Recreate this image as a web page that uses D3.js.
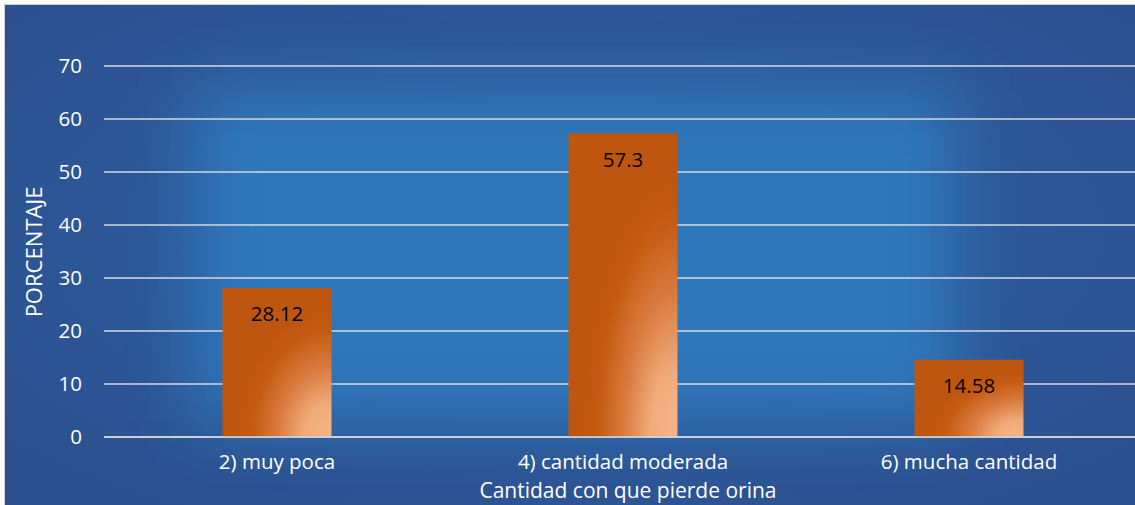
<!DOCTYPE html>
<html><head><meta charset="utf-8">
<script src="https://cdn.jsdelivr.net/npm/d3@7"></script>
<style>html,body{margin:0;padding:0;background:#fff;}svg{display:block;}</style>
</head><body>
<script>
const categories = ["2) muy poca", "4) cantidad moderada", "6) mucha cantidad"];
const values = [28.12, 57.3, 14.58];
const valueLabels = ["28.12", "57.3", "14.58"];
const yTicks = [0, 10, 20, 30, 40, 50, 60, 70];
const xTitle = "Cantidad con que pierde orina";
const yTitle = "PORCENTAJE";

const W = 1135, H = 505;
const font = "'Open Sans', sans-serif";
const svg = d3.select("body").append("svg").attr("width", W).attr("height", H);
const defs = svg.append("defs");

const blur = defs.append("filter").attr("id", "blur").attr("x", "-50%").attr("y", "-50%").attr("width", "200%").attr("height", "200%");
blur.append("feGaussianBlur").attr("stdDeviation", 32);

const bg = defs.append("radialGradient").attr("id", "bgGrad").attr("cx", "0.5").attr("cy", "0.45").attr("r", "0.7");
bg.append("stop").attr("offset", "0").attr("stop-color", "#2e62a4");
bg.append("stop").attr("offset", "1").attr("stop-color", "#2c4f8e");

const barGrad = defs.append("radialGradient").attr("id", "barGrad")
  .attr("cx", "1").attr("cy", "1").attr("r", "0.85").attr("fx", "0.95").attr("fy", "1");
barGrad.append("stop").attr("offset", "0").attr("stop-color", "#f5b486");
barGrad.append("stop").attr("offset", "0.25").attr("stop-color", "#f1ab7b");
barGrad.append("stop").attr("offset", "0.55").attr("stop-color", "#d97b3f");
barGrad.append("stop").attr("offset", "0.85").attr("stop-color", "#c55a11");
barGrad.append("stop").attr("offset", "1").attr("stop-color", "#bf5610");

// frame
svg.append("rect").attr("x", 0).attr("y", 0).attr("width", W).attr("height", H).attr("fill", "#ffffff");
svg.append("rect").attr("x", 4).attr("y", 4).attr("width", W).attr("height", H).attr("fill", "#d0d0d0");
svg.append("rect").attr("x", 5).attr("y", 5).attr("width", W).attr("height", H).attr("fill", "url(#bgGrad)");
svg.append("rect").attr("x", 195).attr("y", 90).attr("width", 760).attr("height", 330)
  .attr("fill", "#2f77ba").attr("filter", "url(#blur)");

const x = d3.scaleBand().domain(categories).range([104, 1142]).paddingInner(0.685).paddingOuter(0.3425);
const y = d3.scaleLinear().domain([0, 70]).range([437, 66]);

// gridlines
svg.append("g").selectAll("line").data(yTicks).join("line")
  .attr("x1", 104).attr("x2", W).attr("y1", d => y(d)).attr("y2", d => y(d))
  .attr("stroke", "#d4d8de").attr("stroke-width", 1.6);

// y tick labels
svg.append("g").selectAll("text").data(yTicks).join("text")
  .attr("x", 82).attr("y", d => y(d)).attr("dy", "0.36em")
  .attr("text-anchor", "end").attr("fill", "#ffffff")
  .attr("font-family", font).attr("font-size", 20.5).text(d => d);

// bars
svg.append("g").selectAll("rect").data(values).join("rect")
  .attr("x", (d, i) => x(categories[i])).attr("width", x.bandwidth())
  .attr("y", d => y(d)).attr("height", d => y(0) - y(d))
  .attr("fill", "url(#barGrad)");

// axis line on top
svg.append("line").attr("x1", 104).attr("x2", W).attr("y1", y(0)).attr("y2", y(0))
  .attr("stroke", "#d4d8de").attr("stroke-width", 1.6);

// data labels
svg.append("g").selectAll("text").data(values).join("text")
  .attr("x", (d, i) => x(categories[i]) + x.bandwidth() / 2)
  .attr("y", d => y(d) + 26).attr("dy", "0.36em")
  .attr("text-anchor", "middle").attr("fill", "#000000")
  .attr("font-family", font).attr("font-size", 20.5)
  .text((d, i) => valueLabels[i]);

// x labels
svg.append("g").selectAll("text").data(categories).join("text")
  .attr("x", d => x(d) + x.bandwidth() / 2).attr("y", 469)
  .attr("text-anchor", "middle").attr("fill", "#ffffff")
  .attr("font-family", font).attr("font-size", 20.5).text(d => d);

// axis titles
svg.append("text").attr("x", 628).attr("y", 498)
  .attr("text-anchor", "middle").attr("fill", "#ffffff")
  .attr("font-family", font).attr("font-size", 21).text(xTitle);
svg.append("text").attr("transform", "translate(42,252) rotate(-90)")
  .attr("text-anchor", "middle").attr("fill", "#ffffff")
  .attr("font-family", font).attr("font-size", 22).text(yTitle);
</script>
</body></html>
